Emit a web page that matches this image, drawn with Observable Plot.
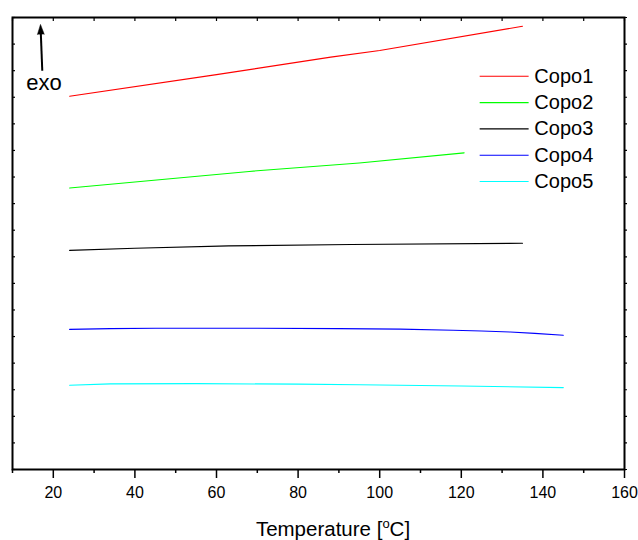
<!DOCTYPE html>
<html>
<head>
<meta charset="utf-8">
<script src="https://cdn.jsdelivr.net/npm/d3@7"></script>
<script src="https://cdn.jsdelivr.net/npm/@observablehq/plot@0.6"></script>
<style>
  html, body { margin: 0; padding: 0; background: #fff; }
  #chart { width: 638px; height: 540px; }
</style>
</head>
<body>
<div id="chart"></div>
<script>
// ---- data ----
const seriesNames = ["Copo1", "Copo2", "Copo3", "Copo4", "Copo5"];
const seriesColors = ["#ff0000", "#00ff00", "#000000", "#0000ff", "#00ffff"];

const copo1T = [24, 60, 88, 100, 135];
const copo1V = [14.04, 14.85, 15.51, 15.76, 16.67];

const copo2T = [24, 68, 95, 120.7];
const copo2V = [10.59, 11.21, 11.53, 11.91];

const copo3T = [24, 40, 63, 93, 135];
const copo3V = [8.24, 8.32, 8.41, 8.46, 8.51];

const copo4T = [24, 34, 45, 70, 90, 105, 118, 125, 132, 138, 145];
const copo4V = [5.27, 5.30, 5.31, 5.31, 5.30, 5.28, 5.24, 5.21, 5.17, 5.12, 5.05];

const copo5T = [24, 34, 55, 80, 95, 120, 145];
const copo5V = [3.17, 3.22, 3.23, 3.21, 3.19, 3.14, 3.08];

const xMajorTicks = [20, 40, 60, 80, 100, 120, 140, 160];
const xMinorTicks = [10, 30, 50, 70, 90, 110, 130, 150];
const xTopTicks = d3.range(10, 161, 10);
const yTicks = d3.range(0, 18, 1);

const xLabelMain = "Temperature [";
const xLabelSup = "o";
const xLabelEnd = "C]";
const exoLabel = "exo";

// ---- layout (annotation / legend anchors in data units) ----
const exoShaft = [{x1: 17.3, y1: 15.0, x2: 16.93, y2: 16.45}];
const exoHead = [{x: 16.86, y: 16.74}];
const exoText = [{x: 17.7, y: 14.29, t: exoLabel}];
const legendX1 = 124.5, legendX2 = 136.5, legendTextX = 137.9;
const legendTop = 14.79, legendStep = 0.99;

// ---- build tidy table ----
const allT = [copo1T, copo2T, copo3T, copo4T, copo5T];
const allV = [copo1V, copo2V, copo3V, copo4V, copo5V];
const rows = [];
seriesNames.forEach((name, i) => {
  allT[i].forEach((t, j) => rows.push({series: name, T: t, v: allV[i][j]}));
});
const legendRows = seriesNames.map((name, i) => ({series: name, y: legendTop - i * legendStep}));

const font = "'Liberation Sans', Arial, Helvetica, sans-serif";

const chart = Plot.plot({
  width: 638,
  height: 540,
  marginTop: 17,
  marginBottom: 71,
  marginLeft: 12,
  marginRight: 14,
  style: {fontFamily: font, background: "#fff", color: "#000"},
  x: {domain: [10, 160]},
  y: {domain: [0, 17]},
  color: {domain: seriesNames, range: seriesColors},
  marks: [
    Plot.line(rows, {x: "T", y: "v", z: "series", stroke: "series", strokeWidth: 1.1, curve: "linear"}),
    // legend
    Plot.link(legendRows, {x1: () => legendX1, x2: () => legendX2, y1: "y", y2: "y", stroke: "series", strokeWidth: 1.1}),
    Plot.text(legendRows, {x: () => legendTextX, y: "y", text: "series", textAnchor: "start", fontSize: 20, fill: "#000"}),
    // exo annotation
    Plot.link(exoShaft, {x1: "x1", y1: "y1", x2: "x2", y2: "y2", stroke: "#000", strokeWidth: 2}),
    Plot.vector(exoHead, {x: "x", y: "y", anchor: "end", shape: "spike", length: 10, r: 3.4, rotate: -2, fill: "#000", stroke: "#000", strokeWidth: 0.5}),
    Plot.text(exoText, {x: "x", y: "y", text: "t", fontSize: 22, lineAnchor: "bottom", fill: "#000"}),
    // axes
    Plot.axisX({anchor: "bottom", ticks: xMajorTicks, tickSize: 9, tickPadding: 8, tickFormat: d3.format("d"), fontSize: 16, label: null, strokeWidth: 1.5}),
    Plot.axisX({anchor: "bottom", ticks: xMinorTicks, tickSize: 4, tickFormat: () => "", label: null, strokeWidth: 1.5}),
    Plot.axisX({anchor: "top", ticks: xTopTicks, tickSize: -3, tickFormat: () => "", label: null, strokeWidth: 1.2}),
    Plot.axisY({anchor: "left", ticks: yTicks, tickSize: -3, tickFormat: () => "", label: null, strokeWidth: 1.2}),
    Plot.axisY({anchor: "right", ticks: yTicks, tickSize: 2, tickFormat: () => "", label: null, strokeWidth: 1.2}),
    Plot.frame({stroke: "#000", strokeWidth: 2})
  ]
});

document.getElementById("chart").appendChild(chart);

// x-axis title with superscript
const svg = d3.select(chart.tagName.toLowerCase() === "svg" ? chart : chart.querySelector("svg"));
const label = svg.append("text")
  .attr("x", 333)
  .attr("y", 536)
  .attr("text-anchor", "middle")
  .attr("font-family", font)
  .attr("font-size", 20.5)
  .attr("fill", "#000");
label.append("tspan").text(xLabelMain);
label.append("tspan").attr("font-size", 13).attr("dy", -8).text(xLabelSup);
label.append("tspan").attr("dy", 8).text(xLabelEnd);
</script>
</body>
</html>
